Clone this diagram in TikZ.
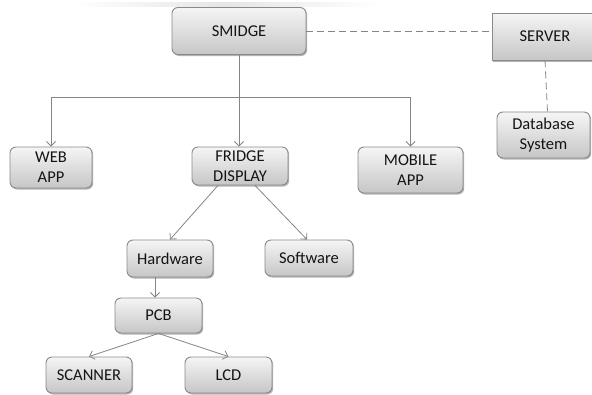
\documentclass[tikz,border=0pt]{standalone}
\usepackage{fontspec}
\setmainfont{Carlito}
\usetikzlibrary{arrows.meta,shadows}
\definecolor{edgegray}{HTML}{8A8A8A}
\definecolor{linegray}{HTML}{858585}
\definecolor{boxtop}{HTML}{F5F5F5}
\definecolor{boxbottom}{HTML}{C6C6C6}
\definecolor{inkcol}{HTML}{141414}
\tikzset{
  box/.style={draw=edgegray, line width=0.9pt, rounded corners=6pt,
    top color=boxtop, bottom color=boxbottom, text=inkcol,
    align=center, inner sep=0pt,
    font=\fontsize{16.5}{20}\selectfont,
    drop shadow={shadow xshift=1.2pt, shadow yshift=-1.5pt, opacity=0.3, fill=black}},
  squarebox/.style={box, rounded corners=0pt},
  link/.style={draw=linegray, line width=0.8pt},
  arrowlink/.style={link, -{Straight Barb[length=4.5pt,width=9pt,line width=0.8pt]}},
  dashlink/.style={link, dash pattern=on 7pt off 4pt},
}
\begin{document}
\begin{tikzpicture}[x=1pt,y=-1pt]
\useasboundingbox (0,0) rectangle (592,394);
% faint band along the top edge
\shade[left color=white, right color=white, middle color=black!10]
  (70,2.5) rectangle (380,6);

% nodes
\node[box, minimum width=134pt, minimum height=47pt] (smidge) at (239,31) {SMIDGE};
\node[squarebox, minimum width=106pt, minimum height=47pt] (server) at (545,36.5) {SERVER};
\node[box, minimum width=93pt, minimum height=46pt] (db) at (543.5,135) {Database\\System};
\node[box, minimum width=82pt, minimum height=41pt] (web) at (51,167.5) {WEB\\APP};
\node[box, minimum width=96pt, minimum height=38pt] (fridge) at (240,166) {FRIDGE\\DISPLAY};
\node[box, minimum width=105pt, minimum height=46pt] (mobile) at (410.5,170) {MOBILE\\APP};
\node[box, minimum width=86pt, minimum height=37pt] (hardware) at (170,258.5) {Hardware};
\node[box, minimum width=88pt, minimum height=36pt] (software) at (309,258) {Software};
\node[box, minimum width=87pt, minimum height=35pt] (pcb) at (158.5,315.5) {PCB};
\node[box, minimum width=86pt, minimum height=36pt] (scanner) at (89,375) {SCANNER};
\node[box, minimum width=87pt, minimum height=36pt] (lcd) at (228.5,375) {LCD};

% distribution bus under SMIDGE
\draw[link] (smidge.south) -- ++(0,42) coordinate (bus);
\draw[arrowlink] (bus) -| (web.north);
\draw[arrowlink] (bus) -| (mobile.north);
\draw[arrowlink] (bus) -- (bus |- fridge.north);

% fridge display branches
\draw[arrowlink] ([xshift=-22pt]fridge.south) -- (hardware.north);
\draw[arrowlink] ([xshift=15pt]fridge.south) -- ([xshift=-2pt]software.north);
\draw[arrowlink] ([xshift=-15pt]hardware.south) -- ([xshift=-3.5pt]pcb.north);
\draw[arrowlink] (pcb.south) -- (scanner.north);
\draw[arrowlink] (pcb.south) -- (lcd.north);

% server links
\draw[dashlink] (smidge.east) -- (smidge.east -| server.west);
\draw[dashlink] (server.south) -- ([xshift=4pt]db.north);
\end{tikzpicture}
\end{document}
